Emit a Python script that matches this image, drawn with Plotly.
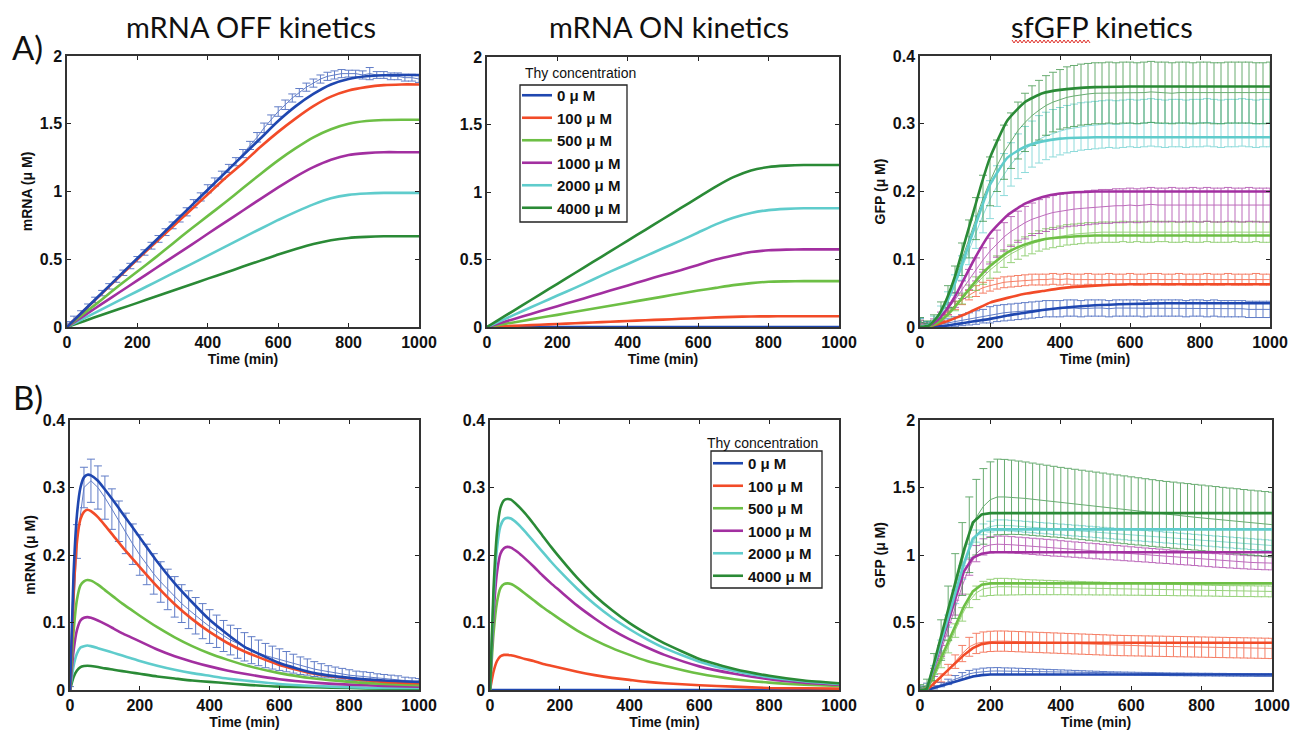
import plotly.graph_objects as go

W, H = 1291, 732

SERIES = ["0 μ M", "100 μ M", "500 μ M", "1000 μ M", "2000 μ M", "4000 μ M"]
COLORS = ["#1f47b0", "#f24b28", "#6dbf45", "#a22fa0", "#5fcccc", "#2a8a36"]

X_TICKS = [0, 200, 400, 600, 800, 1000]
Y_TICKS_2 = [0, 0.5, 1, 1.5, 2]
Y_TICKS_04 = [0, 0.1, 0.2, 0.3, 0.4]

T_FIT_A = [0, 50, 100, 150, 200, 250, 300, 350, 400, 450, 500, 550, 600, 650, 700, 750, 800, 850, 900, 950, 1000]
T_FIT_G = [0, 25, 50, 75, 100, 125, 150, 175, 200, 250, 300, 350, 400, 500, 600, 700, 800, 900, 1000]
T_FIT_B = [0, 10, 20, 30, 40, 50, 60, 80, 100, 125, 150, 175, 200, 250, 300, 350, 400, 450, 500, 600, 700, 800, 900, 1000]
T_DATA = [0, 20, 40, 60, 80, 100, 120, 140, 160, 180,
          200, 220, 240, 260, 280, 300, 320, 340, 360, 380,
          400, 420, 440, 460, 480, 500, 520, 540, 560, 580,
          600, 620, 640, 660, 680, 700, 720, 740, 760, 780,
          800, 820, 840, 860, 880, 900, 920, 940, 960, 980, 1000]

# ---------- A) mRNA OFF kinetics: model fits ----------
A1_FIT_0 = [0, 0.127, 0.253, 0.38, 0.507, 0.633, 0.76, 0.887, 1.013, 1.14, 1.267, 1.393, 1.52, 1.63, 1.72, 1.79, 1.83, 1.85, 1.858, 1.86, 1.86]
A1_FIT_100 = [0, 0.125, 0.25, 0.375, 0.5, 0.62, 0.74, 0.86, 0.98, 1.1, 1.21, 1.33, 1.44, 1.54, 1.63, 1.7, 1.745, 1.77, 1.785, 1.79, 1.79]
A1_FIT_500 = [0, 0.103, 0.205, 0.31, 0.41, 0.51, 0.615, 0.72, 0.82, 0.92, 1.025, 1.13, 1.23, 1.32, 1.4, 1.46, 1.5, 1.52, 1.528, 1.53, 1.53]
A1_FIT_1000 = [0, 0.086, 0.172, 0.258, 0.344, 0.43, 0.516, 0.6, 0.688, 0.774, 0.86, 0.946, 1.03, 1.11, 1.18, 1.235, 1.27, 1.283, 1.29, 1.29, 1.29]
A1_FIT_2000 = [0, 0.066, 0.132, 0.198, 0.264, 0.33, 0.396, 0.46, 0.527, 0.593, 0.66, 0.725, 0.79, 0.85, 0.905, 0.95, 0.975, 0.985, 0.99, 0.99, 0.99]
A1_FIT_4000 = [0, 0.045, 0.09, 0.134, 0.178, 0.223, 0.268, 0.312, 0.357, 0.4, 0.446, 0.49, 0.535, 0.575, 0.612, 0.64, 0.657, 0.665, 0.67, 0.67, 0.67]
# A) mRNA OFF: measured 0 uM (mean, error)
A1_DATA = [0.02, 0.06, 0.1, 0.15, 0.2, 0.25, 0.3, 0.35, 0.4, 0.45,
           0.5, 0.55, 0.6, 0.65, 0.7, 0.75, 0.8, 0.85, 0.91, 0.96,
           1.02, 1.07, 1.12, 1.17, 1.22, 1.28, 1.34, 1.4, 1.47, 1.53,
           1.59, 1.64, 1.69, 1.73, 1.77, 1.8, 1.83, 1.85, 1.86, 1.87,
           1.87, 1.87, 1.86, 1.87, 1.86, 1.86, 1.85, 1.85, 1.84, 1.84, 1.83]
A1_ERR = [0.02, 0.02, 0.02, 0.02, 0.02, 0.02, 0.02, 0.02, 0.02, 0.02,
          0.02, 0.02, 0.025, 0.025, 0.025, 0.025, 0.025, 0.03, 0.03, 0.03,
          0.03, 0.03, 0.03, 0.03, 0.03, 0.03, 0.03, 0.035, 0.035, 0.035,
          0.035, 0.035, 0.03, 0.03, 0.03, 0.03, 0.03, 0.03, 0.03, 0.03,
          0.025, 0.025, 0.03, 0.045, 0.025, 0.025, 0.025, 0.025, 0.025, 0.025, 0.025]

# ---------- A) mRNA ON kinetics: model fits ----------
A2_FIT_0 = [0, 0, 0, 0, 0, 0, 0, 0, 0, 0, 0, 0, 0, 0, 0, 0, 0, 0, 0, 0, 0]
A2_FIT_100 = [0, 0.006, 0.011, 0.017, 0.022, 0.028, 0.033, 0.039, 0.044, 0.05, 0.055, 0.061, 0.066, 0.071, 0.075, 0.078, 0.079, 0.08, 0.08, 0.08, 0.08]
A2_FIT_500 = [0, 0.023, 0.045, 0.068, 0.09, 0.113, 0.135, 0.158, 0.18, 0.203, 0.225, 0.248, 0.27, 0.29, 0.31, 0.325, 0.335, 0.338, 0.34, 0.34, 0.34]
A2_FIT_1000 = [0, 0.039, 0.077, 0.116, 0.154, 0.193, 0.231, 0.27, 0.308, 0.347, 0.385, 0.42, 0.46, 0.5, 0.53, 0.555, 0.568, 0.573, 0.575, 0.575, 0.575]
A2_FIT_2000 = [0, 0.058, 0.117, 0.175, 0.233, 0.29, 0.35, 0.41, 0.467, 0.525, 0.583, 0.64, 0.7, 0.76, 0.81, 0.845, 0.866, 0.875, 0.88, 0.88, 0.88]
A2_FIT_4000 = [0, 0.08, 0.16, 0.24, 0.32, 0.4, 0.48, 0.56, 0.64, 0.72, 0.8, 0.88, 0.96, 1.04, 1.11, 1.16, 1.185, 1.195, 1.2, 1.2, 1.2]

# ---------- A) sfGFP kinetics: model fits ----------
A3_FIT_0 = [0, 0, 0.001, 0.002, 0.004, 0.006, 0.008, 0.01, 0.012, 0.017, 0.021, 0.025, 0.028, 0.032, 0.034, 0.035, 0.035, 0.035, 0.035]
A3_FIT_100 = [0, 0.001, 0.004, 0.008, 0.013, 0.018, 0.024, 0.03, 0.036, 0.043, 0.049, 0.053, 0.057, 0.061, 0.063, 0.063, 0.063, 0.063, 0.063]
A3_FIT_500 = [0, 0.001, 0.006, 0.016, 0.03, 0.046, 0.062, 0.077, 0.09, 0.11, 0.122, 0.129, 0.132, 0.135, 0.135, 0.135, 0.135, 0.135, 0.135]
A3_FIT_1000 = [0, 0.002, 0.01, 0.025, 0.045, 0.07, 0.095, 0.118, 0.138, 0.165, 0.182, 0.192, 0.197, 0.2, 0.2, 0.2, 0.2, 0.2, 0.2]
A3_FIT_2000 = [0, 0.003, 0.015, 0.035, 0.065, 0.1, 0.138, 0.175, 0.21, 0.25, 0.266, 0.274, 0.278, 0.28, 0.28, 0.28, 0.28, 0.28, 0.28]
A3_FIT_4000 = [0, 0.002, 0.015, 0.04, 0.075, 0.12, 0.165, 0.21, 0.25, 0.305, 0.332, 0.345, 0.35, 0.354, 0.355, 0.355, 0.355, 0.355, 0.355]
# A) sfGFP measured (mean, error)
A3_DATA_0 = [0.008, 0.004, 0.003, 0.004, 0.006, 0.008, 0.01, 0.012, 0.014, 0.016,
             0.018, 0.02, 0.021, 0.022, 0.023, 0.024, 0.025, 0.026, 0.027, 0.027,
             0.027, 0.028, 0.028, 0.027, 0.028, 0.028, 0.028, 0.027, 0.028, 0.028,
             0.028, 0.028, 0.027, 0.028, 0.028, 0.028, 0.028, 0.028, 0.027, 0.028,
             0.028, 0.027, 0.028, 0.027, 0.027, 0.027, 0.027, 0.026, 0.026, 0.026, 0.026]
A3_ERR_0 = [0.005, 0.004, 0.004, 0.005, 0.006, 0.007, 0.008, 0.009, 0.01, 0.01,
            0.012, 0.012, 0.012, 0.012, 0.012, 0.012, 0.012, 0.012, 0.012, 0.012,
            0.012, 0.012, 0.012, 0.012, 0.012, 0.012, 0.012, 0.012, 0.012, 0.012,
            0.012, 0.012, 0.012, 0.012, 0.012, 0.012, 0.012, 0.012, 0.012, 0.012,
            0.012, 0.012, 0.012, 0.012, 0.012, 0.012, 0.012, 0.012, 0.012, 0.012, 0.012]
A3_DATA_100 = [0.004, 0.002, 0.006, 0.014, 0.023, 0.032, 0.04, 0.047, 0.053, 0.058,
               0.061, 0.064, 0.066, 0.067, 0.068, 0.069, 0.07, 0.07, 0.07, 0.071,
               0.07, 0.071, 0.07, 0.07, 0.071, 0.07, 0.07, 0.071, 0.07, 0.07,
               0.071, 0.07, 0.07, 0.071, 0.071, 0.07, 0.07, 0.071, 0.07, 0.07,
               0.07, 0.071, 0.07, 0.07, 0.071, 0.07, 0.07, 0.07, 0.071, 0.07, 0.07]
A3_ERR_100 = [0.003, 0.002, 0.003, 0.004, 0.005, 0.006, 0.007, 0.007, 0.008, 0.008,
              0.008, 0.008, 0.008, 0.008, 0.008, 0.008, 0.008, 0.008, 0.008, 0.008,
              0.008, 0.008, 0.008, 0.008, 0.008, 0.008, 0.008, 0.008, 0.008, 0.008,
              0.008, 0.008, 0.008, 0.008, 0.008, 0.008, 0.008, 0.008, 0.008, 0.008,
              0.008, 0.008, 0.008, 0.008, 0.008, 0.008, 0.008, 0.008, 0.008, 0.008, 0.008]
A3_DATA_500 = [0.006, 0.003, 0.006, 0.012, 0.021, 0.031, 0.042, 0.053, 0.064, 0.074,
               0.084, 0.093, 0.101, 0.108, 0.114, 0.119, 0.123, 0.127, 0.13, 0.132,
               0.134, 0.136, 0.137, 0.138, 0.139, 0.139, 0.14, 0.14, 0.14, 0.141,
               0.14, 0.141, 0.14, 0.14, 0.141, 0.141, 0.14, 0.14, 0.141, 0.14,
               0.14, 0.141, 0.14, 0.14, 0.14, 0.141, 0.14, 0.14, 0.141, 0.14, 0.14]
A3_ERR_500 = [0.004, 0.003, 0.004, 0.005, 0.006, 0.007, 0.008, 0.009, 0.01, 0.011,
              0.012, 0.012, 0.013, 0.013, 0.014, 0.014, 0.015, 0.015, 0.015, 0.015,
              0.015, 0.015, 0.015, 0.015, 0.015, 0.015, 0.015, 0.015, 0.015, 0.015,
              0.015, 0.015, 0.015, 0.015, 0.015, 0.015, 0.015, 0.015, 0.015, 0.015,
              0.015, 0.015, 0.015, 0.015, 0.015, 0.015, 0.015, 0.015, 0.015, 0.015, 0.015]
A3_DATA_1000 = [0.006, 0.003, 0.007, 0.015, 0.027, 0.04, 0.055, 0.07, 0.085, 0.099,
                0.112, 0.123, 0.133, 0.141, 0.148, 0.154, 0.159, 0.163, 0.166, 0.169,
                0.171, 0.173, 0.174, 0.175, 0.176, 0.177, 0.178, 0.178, 0.179, 0.179,
                0.18, 0.179, 0.18, 0.181, 0.18, 0.18, 0.181, 0.18, 0.18, 0.181,
                0.18, 0.181, 0.18, 0.18, 0.181, 0.18, 0.18, 0.181, 0.18, 0.18, 0.18]
A3_ERR_1000 = [0.004, 0.003, 0.005, 0.007, 0.009, 0.011, 0.013, 0.015, 0.017, 0.018,
               0.019, 0.02, 0.021, 0.022, 0.023, 0.024, 0.024, 0.025, 0.025, 0.025,
               0.025, 0.025, 0.025, 0.025, 0.025, 0.025, 0.025, 0.025, 0.025, 0.025,
               0.025, 0.025, 0.025, 0.025, 0.025, 0.025, 0.025, 0.025, 0.025, 0.025,
               0.025, 0.025, 0.025, 0.025, 0.025, 0.025, 0.025, 0.025, 0.025, 0.025, 0.025]
A3_DATA_2000 = [0.008, 0.004, 0.01, 0.022, 0.04, 0.062, 0.087, 0.113, 0.14, 0.165,
                0.188, 0.208, 0.225, 0.24, 0.252, 0.262, 0.27, 0.277, 0.282, 0.286,
                0.289, 0.292, 0.294, 0.296, 0.297, 0.298, 0.299, 0.3, 0.299, 0.3,
                0.301, 0.3, 0.301, 0.302, 0.301, 0.3, 0.301, 0.301, 0.3, 0.301,
                0.301, 0.302, 0.301, 0.3, 0.301, 0.301, 0.302, 0.301, 0.3, 0.301, 0.301]
A3_ERR_2000 = [0.005, 0.004, 0.006, 0.009, 0.012, 0.015, 0.018, 0.021, 0.024, 0.026,
               0.028, 0.03, 0.031, 0.032, 0.033, 0.034, 0.034, 0.035, 0.035, 0.035,
               0.035, 0.035, 0.035, 0.035, 0.035, 0.035, 0.035, 0.035, 0.035, 0.035,
               0.035, 0.035, 0.035, 0.035, 0.035, 0.035, 0.035, 0.035, 0.035, 0.035,
               0.035, 0.035, 0.035, 0.035, 0.035, 0.035, 0.035, 0.035, 0.035, 0.035, 0.035]
A3_DATA_4000 = [0.008, 0.004, 0.01, 0.025, 0.045, 0.07, 0.1, 0.13, 0.16, 0.19,
                0.215, 0.238, 0.258, 0.275, 0.29, 0.302, 0.312, 0.32, 0.327, 0.332,
                0.336, 0.339, 0.341, 0.343, 0.344, 0.345, 0.345, 0.346, 0.345, 0.346,
                0.346, 0.345, 0.346, 0.347, 0.346, 0.346, 0.345, 0.346, 0.346, 0.345,
                0.346, 0.346, 0.345, 0.345, 0.346, 0.346, 0.346, 0.346, 0.345, 0.345, 0.346]
A3_ERR_4000 = [0.006, 0.005, 0.008, 0.012, 0.016, 0.02, 0.024, 0.028, 0.031, 0.034,
               0.036, 0.038, 0.04, 0.041, 0.042, 0.043, 0.044, 0.044, 0.044, 0.044,
               0.044, 0.045, 0.045, 0.045, 0.045, 0.045, 0.045, 0.045, 0.045, 0.045,
               0.045, 0.045, 0.045, 0.045, 0.045, 0.045, 0.045, 0.045, 0.045, 0.045,
               0.045, 0.045, 0.045, 0.045, 0.045, 0.045, 0.045, 0.045, 0.045, 0.045, 0.045]

# ---------- B) mRNA OFF kinetics ----------
B1_FIT_0 = [0, 0.17, 0.26, 0.3, 0.315, 0.319, 0.318, 0.31, 0.297, 0.28, 0.262, 0.244, 0.226, 0.19, 0.158, 0.13, 0.104, 0.083, 0.064, 0.04, 0.025, 0.018, 0.014, 0.012]
B1_FIT_100 = [0, 0.14, 0.22, 0.253, 0.264, 0.267, 0.265, 0.256, 0.244, 0.228, 0.212, 0.197, 0.182, 0.153, 0.127, 0.105, 0.086, 0.07, 0.057, 0.037, 0.024, 0.017, 0.012, 0.01]
B1_FIT_500 = [0, 0.085, 0.134, 0.155, 0.161, 0.163, 0.162, 0.156, 0.148, 0.138, 0.128, 0.119, 0.11, 0.093, 0.078, 0.065, 0.054, 0.045, 0.037, 0.025, 0.017, 0.012, 0.009, 0.007]
B1_FIT_1000 = [0, 0.057, 0.089, 0.103, 0.107, 0.108, 0.107, 0.103, 0.098, 0.091, 0.084, 0.078, 0.072, 0.06, 0.05, 0.042, 0.035, 0.029, 0.024, 0.016, 0.011, 0.008, 0.006, 0.005]
B1_FIT_2000 = [0, 0.035, 0.054, 0.063, 0.065, 0.066, 0.065, 0.062, 0.059, 0.055, 0.051, 0.047, 0.043, 0.036, 0.03, 0.025, 0.021, 0.017, 0.014, 0.009, 0.006, 0.004, 0.003, 0.003]
B1_FIT_4000 = [0, 0.019, 0.029, 0.034, 0.0355, 0.036, 0.0355, 0.034, 0.032, 0.03, 0.028, 0.026, 0.024, 0.02, 0.017, 0.014, 0.012, 0.01, 0.008, 0.005, 0.004, 0.003, 0.002, 0.002]
B1_DATA = [0.0, 0.22, 0.3, 0.31, 0.3, 0.285, 0.268, 0.25, 0.232, 0.216,
           0.2, 0.186, 0.172, 0.16, 0.149, 0.138, 0.128, 0.119, 0.11, 0.102,
           0.094, 0.087, 0.08, 0.074, 0.069, 0.064, 0.059, 0.055, 0.051, 0.048,
           0.045, 0.042, 0.039, 0.036, 0.034, 0.031, 0.029, 0.027, 0.025, 0.024,
           0.022, 0.021, 0.02, 0.019, 0.018, 0.017, 0.016, 0.015, 0.014, 0.013, 0.012]
B1_ERR = [0.005, 0.025, 0.03, 0.032, 0.032, 0.032, 0.03, 0.03, 0.03, 0.03,
          0.03, 0.03, 0.03, 0.03, 0.03, 0.03, 0.028, 0.028, 0.027, 0.026,
          0.025, 0.024, 0.023, 0.022, 0.022, 0.021, 0.02, 0.019, 0.018, 0.017,
          0.016, 0.015, 0.014, 0.013, 0.012, 0.011, 0.01, 0.009, 0.009, 0.008,
          0.008, 0.007, 0.007, 0.007, 0.006, 0.006, 0.006, 0.006, 0.005, 0.005, 0.005]

# ---------- B) mRNA ON kinetics ----------
B2_FIT_0 = [0, 0, 0, 0, 0, 0, 0, 0, 0, 0, 0, 0, 0, 0, 0, 0, 0, 0, 0, 0, 0, 0, 0, 0]
B2_FIT_100 = [0, 0.027, 0.043, 0.05, 0.052, 0.052, 0.0515, 0.049, 0.046, 0.043, 0.039, 0.036, 0.033, 0.027, 0.022, 0.018, 0.015, 0.012, 0.01, 0.007, 0.005, 0.003, 0.0025, 0.002]
B2_FIT_500 = [0, 0.083, 0.13, 0.151, 0.157, 0.158, 0.157, 0.151, 0.143, 0.133, 0.123, 0.114, 0.105, 0.088, 0.074, 0.062, 0.052, 0.043, 0.036, 0.024, 0.016, 0.011, 0.008, 0.006]
B2_FIT_1000 = [0, 0.11, 0.174, 0.202, 0.21, 0.212, 0.211, 0.204, 0.195, 0.183, 0.17, 0.158, 0.147, 0.125, 0.106, 0.089, 0.075, 0.063, 0.052, 0.035, 0.024, 0.016, 0.011, 0.008]
B2_FIT_2000 = [0, 0.133, 0.21, 0.243, 0.253, 0.255, 0.254, 0.246, 0.235, 0.22, 0.205, 0.19, 0.176, 0.15, 0.127, 0.107, 0.09, 0.075, 0.062, 0.042, 0.028, 0.019, 0.013, 0.009]
B2_FIT_4000 = [0, 0.148, 0.233, 0.27, 0.281, 0.283, 0.282, 0.273, 0.262, 0.246, 0.229, 0.212, 0.196, 0.166, 0.14, 0.118, 0.099, 0.083, 0.069, 0.046, 0.031, 0.021, 0.014, 0.01]

# ---------- B) sfGFP kinetics ----------
B3_FIT_0 = [0, 0, 0.001, 0.008, 0.016, 0.024, 0.032, 0.048, 0.064, 0.084, 0.1, 0.11, 0.115, 0.115, 0.115, 0.115, 0.115, 0.115, 0.115, 0.115, 0.115, 0.115, 0.115, 0.115]
B3_FIT_100 = [0, 0, 0.003, 0.025, 0.05, 0.075, 0.1, 0.15, 0.2, 0.26, 0.31, 0.34, 0.35, 0.35, 0.35, 0.35, 0.35, 0.35, 0.35, 0.35, 0.35, 0.35, 0.35, 0.35]
B3_FIT_500 = [0, 0, 0.005, 0.06, 0.12, 0.18, 0.24, 0.36, 0.48, 0.62, 0.73, 0.78, 0.79, 0.79, 0.79, 0.79, 0.79, 0.79, 0.79, 0.79, 0.79, 0.79, 0.79, 0.79]
B3_FIT_1000 = [0, 0, 0.01, 0.085, 0.17, 0.255, 0.34, 0.51, 0.68, 0.88, 0.98, 1.01, 1.02, 1.02, 1.02, 1.02, 1.02, 1.02, 1.02, 1.02, 1.02, 1.02, 1.02, 1.02]
B3_FIT_2000 = [0, 0, 0.01, 0.09, 0.18, 0.27, 0.36, 0.54, 0.72, 0.94, 1.12, 1.18, 1.19, 1.19, 1.19, 1.19, 1.19, 1.19, 1.19, 1.19, 1.19, 1.19, 1.19, 1.19]
B3_FIT_4000 = [0, 0, 0.01, 0.1, 0.2, 0.3, 0.4, 0.6, 0.8, 1.04, 1.24, 1.3, 1.31, 1.31, 1.31, 1.31, 1.31, 1.31, 1.31, 1.31, 1.31, 1.31, 1.31, 1.31]
B3_DATA_0 = [0.005, 0.01, 0.02, 0.04, 0.06, 0.085, 0.105, 0.12, 0.13, 0.137,
             0.14, 0.141, 0.14, 0.139, 0.138, 0.137, 0.136, 0.135, 0.134, 0.133,
             0.132, 0.131, 0.13, 0.129, 0.128, 0.127, 0.126, 0.125, 0.124, 0.123,
             0.122, 0.121, 0.12, 0.119, 0.118, 0.117, 0.116, 0.116, 0.115, 0.115,
             0.114, 0.114, 0.113, 0.113, 0.112, 0.112, 0.111, 0.111, 0.11, 0.11, 0.11]
B3_ERR_0 = [0.005, 0.008, 0.012, 0.016, 0.02, 0.022, 0.024, 0.025, 0.025, 0.025,
            0.025, 0.025, 0.024, 0.024, 0.023, 0.022, 0.021, 0.02, 0.019, 0.018,
            0.017, 0.016, 0.015, 0.014, 0.013, 0.012, 0.011, 0.01, 0.01, 0.01,
            0.01, 0.01, 0.01, 0.01, 0.01, 0.01, 0.01, 0.01, 0.01, 0.01,
            0.01, 0.01, 0.01, 0.01, 0.01, 0.01, 0.01, 0.01, 0.01, 0.01, 0.01]
B3_DATA_100 = [0.005, 0.01, 0.04, 0.09, 0.15, 0.21, 0.27, 0.32, 0.345, 0.355,
               0.36, 0.362, 0.362, 0.36, 0.358, 0.356, 0.354, 0.352, 0.35, 0.348,
               0.346, 0.344, 0.342, 0.34, 0.338, 0.336, 0.334, 0.332, 0.33, 0.329,
               0.328, 0.327, 0.326, 0.325, 0.324, 0.323, 0.322, 0.321, 0.32, 0.319,
               0.318, 0.317, 0.316, 0.315, 0.314, 0.313, 0.312, 0.311, 0.31, 0.309, 0.308]
B3_ERR_100 = [0.005, 0.01, 0.02, 0.03, 0.04, 0.05, 0.06, 0.07, 0.075, 0.075,
              0.075, 0.075, 0.075, 0.075, 0.075, 0.075, 0.075, 0.075, 0.075, 0.075,
              0.075, 0.075, 0.075, 0.075, 0.075, 0.075, 0.075, 0.075, 0.075, 0.075,
              0.075, 0.075, 0.075, 0.075, 0.075, 0.075, 0.075, 0.075, 0.075, 0.075,
              0.075, 0.075, 0.075, 0.075, 0.075, 0.075, 0.075, 0.075, 0.075, 0.075, 0.075]
B3_DATA_500 = [0.01, 0.02, 0.09, 0.2, 0.32, 0.44, 0.56, 0.66, 0.72, 0.75,
               0.76, 0.765, 0.765, 0.764, 0.763, 0.762, 0.761, 0.76, 0.759, 0.758,
               0.757, 0.756, 0.755, 0.754, 0.753, 0.752, 0.751, 0.75, 0.749, 0.748,
               0.747, 0.746, 0.745, 0.744, 0.743, 0.742, 0.741, 0.74, 0.739, 0.738,
               0.737, 0.736, 0.735, 0.734, 0.733, 0.733, 0.732, 0.732, 0.731, 0.731, 0.73]
B3_ERR_500 = [0.01, 0.015, 0.025, 0.035, 0.045, 0.05, 0.05, 0.05, 0.05, 0.055,
              0.06, 0.062, 0.062, 0.06, 0.058, 0.056, 0.055, 0.054, 0.053, 0.052,
              0.051, 0.05, 0.05, 0.049, 0.048, 0.048, 0.047, 0.046, 0.046, 0.045,
              0.045, 0.044, 0.044, 0.043, 0.043, 0.042, 0.042, 0.042, 0.041, 0.041,
              0.041, 0.04, 0.04, 0.04, 0.04, 0.04, 0.04, 0.04, 0.04, 0.04, 0.04]
B3_DATA_1000 = [0.02, 0.03, 0.13, 0.29, 0.45, 0.61, 0.77, 0.91, 1.01, 1.06,
                1.075, 1.08, 1.08, 1.076, 1.072, 1.068, 1.064, 1.06, 1.056, 1.052,
                1.048, 1.044, 1.04, 1.036, 1.032, 1.028, 1.024, 1.02, 1.016, 1.012,
                1.008, 1.004, 1.0, 0.996, 0.992, 0.988, 0.984, 0.98, 0.976, 0.972,
                0.968, 0.964, 0.96, 0.957, 0.954, 0.951, 0.948, 0.945, 0.943, 0.941, 0.94]
B3_ERR_1000 = [0.01, 0.02, 0.03, 0.04, 0.05, 0.055, 0.06, 0.06, 0.06, 0.06,
               0.06, 0.06, 0.06, 0.06, 0.06, 0.06, 0.06, 0.06, 0.06, 0.06,
               0.058, 0.058, 0.057, 0.057, 0.056, 0.056, 0.055, 0.055, 0.054, 0.054,
               0.053, 0.053, 0.052, 0.052, 0.052, 0.051, 0.051, 0.051, 0.05, 0.05,
               0.05, 0.05, 0.05, 0.05, 0.05, 0.05, 0.05, 0.05, 0.05, 0.05, 0.05]
B3_DATA_2000 = [0.02, 0.03, 0.15, 0.33, 0.51, 0.69, 0.87, 1.03, 1.14, 1.19,
                1.21, 1.22, 1.22, 1.217, 1.213, 1.209, 1.205, 1.201, 1.197, 1.193,
                1.189, 1.185, 1.181, 1.177, 1.173, 1.169, 1.165, 1.161, 1.157, 1.153,
                1.149, 1.145, 1.141, 1.137, 1.133, 1.129, 1.125, 1.121, 1.117, 1.113,
                1.109, 1.105, 1.101, 1.097, 1.093, 1.089, 1.085, 1.081, 1.077, 1.073, 1.07]
B3_ERR_2000 = [0.01, 0.02, 0.03, 0.04, 0.045, 0.05, 0.05, 0.05, 0.045, 0.04,
               0.04, 0.04, 0.04, 0.04, 0.04, 0.04, 0.04, 0.04, 0.04, 0.04,
               0.04, 0.04, 0.04, 0.04, 0.04, 0.04, 0.04, 0.04, 0.04, 0.04,
               0.04, 0.04, 0.04, 0.04, 0.04, 0.04, 0.04, 0.04, 0.04, 0.04,
               0.04, 0.04, 0.04, 0.04, 0.04, 0.04, 0.04, 0.04, 0.04, 0.04, 0.04]
B3_DATA_4000 = [0.02, 0.03, 0.17, 0.37, 0.57, 0.77, 0.97, 1.15, 1.28, 1.36,
                1.41, 1.43, 1.43, 1.428, 1.424, 1.419, 1.413, 1.407, 1.401, 1.395,
                1.389, 1.383, 1.377, 1.371, 1.365, 1.359, 1.353, 1.347, 1.341, 1.335,
                1.329, 1.323, 1.317, 1.311, 1.305, 1.3, 1.295, 1.29, 1.285, 1.28,
                1.275, 1.27, 1.265, 1.26, 1.255, 1.25, 1.245, 1.24, 1.235, 1.23, 1.225]
B3_ERR_4000 = [0.02, 0.05, 0.1, 0.15, 0.2, 0.24, 0.27, 0.28, 0.28, 0.28,
               0.28, 0.28, 0.278, 0.275, 0.272, 0.27, 0.268, 0.266, 0.264, 0.262,
               0.26, 0.259, 0.258, 0.257, 0.256, 0.255, 0.254, 0.253, 0.252, 0.251,
               0.25, 0.249, 0.248, 0.247, 0.246, 0.245, 0.245, 0.244, 0.244, 0.243,
               0.243, 0.242, 0.242, 0.241, 0.241, 0.241, 0.24, 0.24, 0.24, 0.24, 0.24]

# ---------------------------------------------------------------------------
def px_x(x):
    return x / W


def px_y(y):
    return 1 - y / H


# panel plot areas in screen pixels: (left, right, top, bottom)
PANELS = [
    (67, 419, 56, 327),
    (487, 839, 57, 327),
    (920, 1270, 56, 327),
    (70, 419, 420, 690),
    (490, 839, 420, 690),
    (920, 1272, 420, 690),
]
Y_RANGES = [[0, 2], [0, 2], [0, 0.4], [0, 0.4], [0, 0.4], [0, 2]]
Y_TICKS = [Y_TICKS_2, Y_TICKS_2, Y_TICKS_04, Y_TICKS_04, Y_TICKS_04, Y_TICKS_2]
Y_TITLES = ["mRNA (μ M)", "", "GFP (μ M)", "mRNA (μ M)", "", "GFP (μ M)"]

SANS = "Liberation Sans, Arial, sans-serif"
TICKFONT = dict(family=SANS, size=16, color="#111", weight="bold")
AXTITLEFONT = dict(family=SANS, size=14, color="#111", weight="bold")

fig = go.Figure()


def axname(i, kind):
    return kind if i == 0 else f"{kind}{i + 1}"


def add_fit(panel, t, y, k, legend=None, spline=True):
    line = dict(color=COLORS[k], width=2.6)
    if spline:
        line.update(shape="spline", smoothing=0.5)
    fig.add_trace(go.Scatter(
        x=t, y=y, mode="lines", name=SERIES[k], line=line,
        xaxis=axname(panel, "x"), yaxis=axname(panel, "y"),
        showlegend=legend is not None, legend=legend if legend else "legend",
        hoverinfo="skip"))


def add_data(panel, mean, err, k):
    fig.add_trace(go.Scatter(
        x=T_DATA, y=mean, mode="lines", name=SERIES[k],
        line=dict(color=COLORS[k], width=1),
        error_y=dict(type="data", array=err, visible=True, color=COLORS[k],
                     thickness=1, width=4),
        opacity=0.7,
        xaxis=axname(panel, "x"), yaxis=axname(panel, "y"),
        showlegend=False, hoverinfo="skip"))


# Panel A1
add_data(0, A1_DATA, A1_ERR, 0)
for k, y in enumerate([A1_FIT_0, A1_FIT_100, A1_FIT_500, A1_FIT_1000, A1_FIT_2000, A1_FIT_4000][::-1]):
    add_fit(0, T_FIT_A, y, 5 - k)
# Panel A2
for k, y in enumerate([A2_FIT_0, A2_FIT_100, A2_FIT_500, A2_FIT_1000, A2_FIT_2000, A2_FIT_4000]):
    add_fit(1, T_FIT_A, y, k, legend="legend")
# Panel A3
for k, (m, e) in enumerate([(A3_DATA_0, A3_ERR_0), (A3_DATA_100, A3_ERR_100), (A3_DATA_500, A3_ERR_500),
                            (A3_DATA_1000, A3_ERR_1000), (A3_DATA_2000, A3_ERR_2000), (A3_DATA_4000, A3_ERR_4000)]):
    add_data(2, m, e, k)
for k, y in enumerate([A3_FIT_0, A3_FIT_100, A3_FIT_500, A3_FIT_1000, A3_FIT_2000, A3_FIT_4000]):
    add_fit(2, T_FIT_G, y, k)
# Panel B1
add_data(3, B1_DATA, B1_ERR, 0)
for k, y in enumerate([B1_FIT_0, B1_FIT_100, B1_FIT_500, B1_FIT_1000, B1_FIT_2000, B1_FIT_4000][::-1]):
    add_fit(3, T_FIT_B, y, 5 - k)
# Panel B2
for k, y in enumerate([B2_FIT_0, B2_FIT_100, B2_FIT_500, B2_FIT_1000, B2_FIT_2000, B2_FIT_4000]):
    add_fit(4, T_FIT_B, y, k, legend="legend2")
# Panel B3
for k, (m, e) in enumerate([(B3_DATA_0, B3_ERR_0), (B3_DATA_100, B3_ERR_100), (B3_DATA_500, B3_ERR_500),
                            (B3_DATA_1000, B3_ERR_1000), (B3_DATA_2000, B3_ERR_2000), (B3_DATA_4000, B3_ERR_4000)]):
    add_data(5, m, e, k)
for k, y in enumerate([B3_FIT_0, B3_FIT_100, B3_FIT_500, B3_FIT_1000, B3_FIT_2000, B3_FIT_4000]):
    add_fit(5, T_FIT_B, y, k, spline=False)

layout = dict(
    width=W, height=H,
    margin=dict(l=0, r=0, t=0, b=0),
    paper_bgcolor="white", plot_bgcolor="white",
    font=dict(family=SANS, color="#111"),
)

for i, (l, r, t, b) in enumerate(PANELS):
    xa = axname(i, "xaxis")
    ya = axname(i, "yaxis")
    layout[xa] = dict(
        domain=[px_x(l), px_x(r)], range=[0, 1000], tickvals=X_TICKS,
        anchor=axname(i, "y"), ticks="inside", ticklen=4, tickwidth=1, tickcolor="#222",
        showline=True, linecolor="#333", linewidth=1.5, mirror="ticks",
        showgrid=False, zeroline=False, tickfont=TICKFONT, automargin=False,
        ticklabeloverflow="allow",
        title=dict(text="Time (min)", font=AXTITLEFONT, standoff=2), fixedrange=True)
    layout[ya] = dict(
        domain=[px_y(b), px_y(t)], range=Y_RANGES[i], tickvals=Y_TICKS[i],
        anchor=axname(i, "x"), ticks="inside", ticklen=4, tickwidth=1, tickcolor="#222",
        showline=True, linecolor="#333", linewidth=1.5, mirror="ticks",
        showgrid=False, zeroline=False, tickfont=TICKFONT, automargin=False,
        ticklabeloverflow="allow",
        title=dict(text=Y_TITLES[i], font=AXTITLEFONT, standoff=4), fixedrange=True)

LEGFONT = dict(family=SANS, size=15, color="#111", weight="bold")
layout["legend"] = dict(x=px_x(517), y=px_y(79), xanchor="left", yanchor="top",
                        borderwidth=0, bgcolor="rgba(0,0,0,0)",
                        font=LEGFONT, itemwidth=30, tracegroupgap=0)
layout["legend2"] = dict(x=px_x(708), y=px_y(447), xanchor="left", yanchor="top",
                         borderwidth=0, bgcolor="rgba(0,0,0,0)",
                         font=LEGFONT, itemwidth=30, tracegroupgap=0)

TITLEFONT = dict(family="Lato, Open Sans, sans-serif", size=29, color="#111")
annotations = []
for txt, x in [("mRNA OFF kinetics", 251), ("mRNA ON kinetics", 669), ("sfGFP kinetics", 1102)]:
    annotations.append(dict(text=txt, x=px_x(x), y=px_y(27), xref="paper", yref="paper",
                            showarrow=False, xanchor="center", yanchor="middle", font=TITLEFONT))
for txt, x, y in [("A)", 27, 47), ("B)", 28, 397)]:
    annotations.append(dict(text=txt, x=px_x(x), y=px_y(y), xref="paper", yref="paper",
                            showarrow=False, xanchor="center", yanchor="middle",
                            font=dict(family="Lato, Open Sans, sans-serif", size=33, color="#111")))
for x, y in [(523, 73), (705, 443)]:
    annotations.append(dict(text="Thy concentration", x=px_x(x), y=px_y(y), xref="paper", yref="paper",
                            showarrow=False, xanchor="left", yanchor="middle",
                            font=dict(family=SANS, size=14, color="#111")))
layout["annotations"] = annotations

shapes = []
# legend frames
for (x0, y0, x1, y1) in [(520, 85, 627, 222), (711, 451, 822, 588)]:
    shapes.append(dict(type="rect", xref="paper", yref="paper",
                       x0=px_x(x0), x1=px_x(x1), y0=px_y(y1), y1=px_y(y0),
                       line=dict(color="#222", width=1.3), fillcolor="white", layer="above"))
# red spell-check squiggle under "sfGFP"
pts = []
xs = 1012
i = 0
while xs <= 1090:
    yy = 40 if i % 2 == 0 else 43
    pts.append((px_x(xs), px_y(yy)))
    xs += 2
    i += 1
path = "M" + " L".join(f"{a:.5f},{b:.5f}" for a, b in pts)
shapes.append(dict(type="path", path=path, xref="paper", yref="paper",
                   line=dict(color="#e0302a", width=1)))
layout["shapes"] = shapes

fig.update_layout(**layout)
# remove the browser's default page margin so the figure fills the window exactly
fig.write_html("out.html",
               config={"displayModeBar": False, "displaylogo": False},
               post_script="document.body.style.margin='0';document.body.style.overflow='hidden';")
